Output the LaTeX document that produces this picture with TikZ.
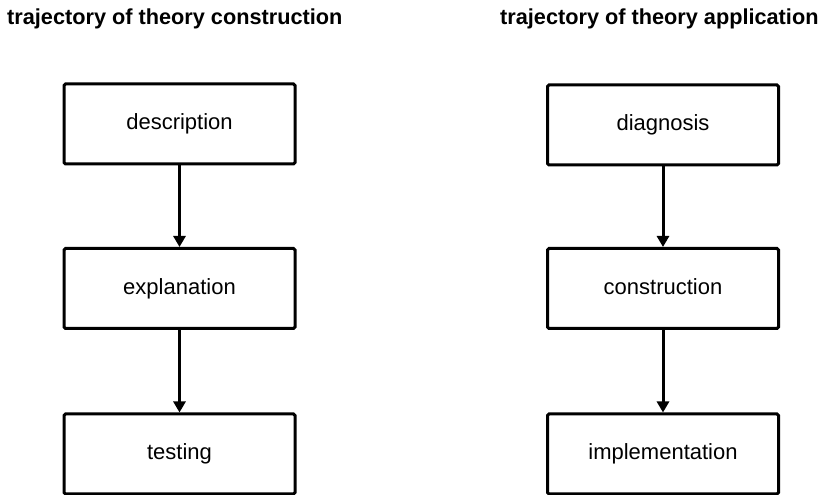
\documentclass[tikz,border=0pt]{standalone}
\usepackage{fontspec}
\setmainfont{Liberation Sans}
\usetikzlibrary{arrows.meta}
\begin{document}
\begin{tikzpicture}[x=1pt,y=1pt,
  stagebox/.style={draw, line width=3pt, rounded corners=1.5pt, inner sep=0pt,
    minimum width=231pt, minimum height=80pt, text height=15pt, text depth=3pt,
    font=\fontsize{22}{26}\selectfont},
  heading/.style={anchor=base west, inner sep=0pt, font=\fontsize{21.7}{26}\selectfont\bfseries},
  flow/.style={line width=3pt, -{Triangle[length=11pt,width=12pt]}}]
  \useasboundingbox (0,0) rectangle (825,495);

  % column headings
  \node[heading] (hl) at (7,470) {trajectory of theory construction};
  \node[heading] (hr) at (500,470) {trajectory of theory application};

  % theory construction
  \node[stagebox] (desc) at (179.5,371) {description};
  \node[stagebox] (expl) at (179.5,206.5) {explanation};
  \node[stagebox] (test) at (179.5,41) {testing};

  % theory application
  \node[stagebox] (diag) at (663,370) {diagnosis};
  \node[stagebox] (cons) at (663,206.5) {construction};
  \node[stagebox] (impl) at (663,41) {implementation};

  \draw[flow] (desc) -- (expl);
  \draw[flow] (expl) -- (test);
  \draw[flow] (diag) -- (cons);
  \draw[flow] (cons) -- (impl);
\end{tikzpicture}
\end{document}
